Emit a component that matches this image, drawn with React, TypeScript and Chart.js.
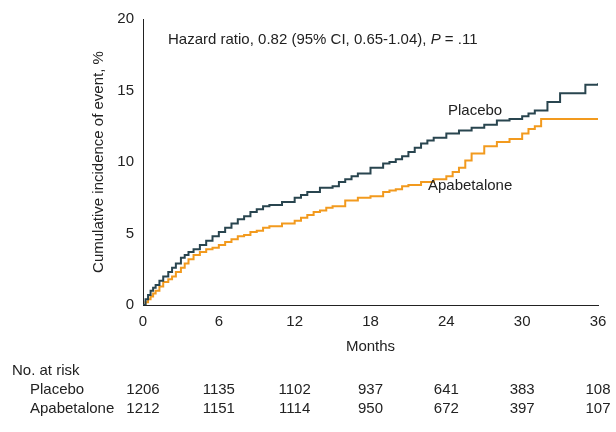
import React, { useEffect, useRef } from "react";
import Chart from "chart.js/auto";

const placeboMonths = [0, 0.2, 0.4, 0.6, 0.8, 1, 1.3, 1.6, 2, 2.3, 2.6, 3, 3.3, 3.6, 4, 4.5, 5, 5.5, 6, 6.5, 7, 7.5, 8, 8.5, 9, 9.5, 10, 11, 12, 12.5, 13, 14, 15, 15.5, 16, 16.5, 17, 18, 19, 19.5, 20, 20.5, 21, 21.5, 22, 22.5, 23, 24, 25, 26, 27, 28, 29, 30, 30.5, 31, 32, 33, 35, 36];
const placeboValues = [0, 0.4, 0.7, 1.0, 1.2, 1.4, 1.7, 2.0, 2.3, 2.6, 2.9, 3.3, 3.5, 3.7, 3.9, 4.2, 4.5, 4.8, 5.1, 5.4, 5.7, 6.0, 6.2, 6.5, 6.7, 6.9, 7.0, 7.2, 7.5, 7.7, 7.9, 8.2, 8.3, 8.6, 8.8, 9.0, 9.2, 9.6, 9.9, 10.0, 10.2, 10.4, 10.7, 11.0, 11.3, 11.5, 11.7, 12.0, 12.2, 12.4, 12.6, 12.9, 13.0, 13.2, 13.4, 13.6, 14.2, 14.8, 15.4, 15.5];
const apaMonths = [0, 0.2, 0.4, 0.6, 0.8, 1, 1.3, 1.6, 2, 2.3, 2.6, 3, 3.3, 3.6, 4, 4.5, 5, 5.5, 6, 6.5, 7, 7.5, 8, 8.5, 9, 9.5, 10, 11, 12, 12.5, 13, 13.5, 14, 14.5, 15, 16, 17, 18, 19, 19.5, 20, 20.5, 21, 22, 23, 24, 24.5, 25, 25.5, 26, 27, 28, 29, 30, 30.5, 31, 31.5, 36];
const apaValues = [0, 0.2, 0.4, 0.6, 0.8, 1.0, 1.3, 1.6, 1.8, 2.0, 2.3, 2.6, 2.9, 3.2, 3.5, 3.7, 3.9, 4.0, 4.2, 4.4, 4.6, 4.8, 4.9, 5.1, 5.2, 5.4, 5.5, 5.7, 5.9, 6.1, 6.3, 6.5, 6.6, 6.8, 6.9, 7.3, 7.5, 7.6, 7.9, 8.0, 8.1, 8.3, 8.4, 8.6, 8.8, 9.0, 9.3, 9.6, 10.1, 10.6, 11.1, 11.4, 11.6, 12.0, 12.3, 12.5, 13.0, 13.0];

const riskMonths = [0, 6, 12, 18, 24, 30, 36];
const placeboRisk = [1206, 1135, 1102, 937, 641, 383, 108];
const apaRisk = [1212, 1151, 1114, 950, 672, 397, 107];

const FONT = "'Liberation Sans Narrow', 'Arial Narrow', 'Liberation Sans', sans-serif";
const PLACEBO_COLOR = "#29454f";
const APA_COLOR = "#f29a1e";

const overlay = {
  id: "overlay",
  afterDraw(chart: any) {
    const ctx = chart.ctx;
    const x = chart.scales.x;
    ctx.save();
    ctx.fillStyle = "#222";
    ctx.font = `15px ${FONT}`;
    ctx.textBaseline = "middle";
    ctx.textAlign = "left";
    const hr = "Hazard ratio, 0.82 (95% CI, 0.65-1.04), ";
    ctx.fillText(hr, 168, 40);
    let px = 168 + ctx.measureText(hr).width;
    ctx.font = `italic 15px ${FONT}`;
    ctx.fillText("P", px, 40);
    px += ctx.measureText("P").width;
    ctx.font = `15px ${FONT}`;
    ctx.fillText(" = .11", px, 40);

    ctx.fillText("Placebo", 448, 111);
    ctx.fillText("Apabetalone", 428, 186);

    ctx.fillText("No. at risk", 12, 371);
    ctx.fillText("Placebo", 30, 390);
    ctx.fillText("Apabetalone", 30, 409);
    ctx.textAlign = "center";
    riskMonths.forEach((m, i) => {
      const cx = x.getPixelForValue(m);
      const w = Math.max(ctx.measureText(String(placeboRisk[i])).width, ctx.measureText(String(apaRisk[i])).width);
      const ax = Math.min(cx, 616 - w / 2 - 1);
      ctx.fillText(String(placeboRisk[i]), ax, 390);
      ctx.fillText(String(apaRisk[i]), ax, 409);
    });
    ctx.restore();
  },
};

const App = () => {
  const canvasRef = useRef<HTMLCanvasElement>(null);
  const chartRef = useRef<any>(null);

  useEffect(() => {
    document.body.style.margin = "0";
    if (chartRef.current) chartRef.current.destroy();
    chartRef.current = new Chart(canvasRef.current!, {
      type: "line",
      data: {
        datasets: [
          {
            label: "Placebo",
            data: placeboMonths.map((m, i) => ({ x: m, y: placeboValues[i] })),
            borderColor: PLACEBO_COLOR,
            borderWidth: 2,
            stepped: true,
            pointRadius: 0,
          },
          {
            label: "Apabetalone",
            data: apaMonths.map((m, i) => ({ x: m, y: apaValues[i] })),
            borderColor: APA_COLOR,
            borderWidth: 2,
            stepped: true,
            pointRadius: 0,
          },
        ],
      },
      options: {
        animation: false,
        responsive: false,
        layout: { padding: { top: 19, right: 18, bottom: 72, left: 86 } },
        plugins: { legend: { display: false }, tooltip: { enabled: false } },
        scales: {
          x: {
            type: "linear",
            min: 0,
            max: 36,
            afterFit: (s: any) => { s.height = 55; },
            ticks: { stepSize: 6, color: "#222", font: { family: FONT, size: 15 }, padding: 2 },
            grid: { display: false, drawTicks: true, tickLength: 6, color: "#222" },
            border: { color: "#222", width: 1 },
            title: { display: true, text: "Months", color: "#222", font: { family: FONT, size: 15 }, padding: { top: 4 } },
          },
          y: {
            min: 0,
            max: 20,
            afterFit: (s: any) => { s.width = 57; },
            ticks: { stepSize: 5, color: "#222", font: { family: FONT, size: 15 }, padding: 3 },
            grid: { display: false, drawTicks: true, tickLength: 6, color: "#222" },
            border: { color: "#222", width: 1 },
            title: { display: true, text: "Cumulative incidence of event, %", color: "#222", font: { family: FONT, size: 15 }, padding: { bottom: 0 } },
          },
        },
      },
      plugins: [overlay],
    });
    return () => {
      if (chartRef.current) chartRef.current.destroy();
    };
  }, []);

  return <canvas ref={canvasRef} width={616} height={432} style={{ width: 616, height: 432 }} />;
};

export default App;
